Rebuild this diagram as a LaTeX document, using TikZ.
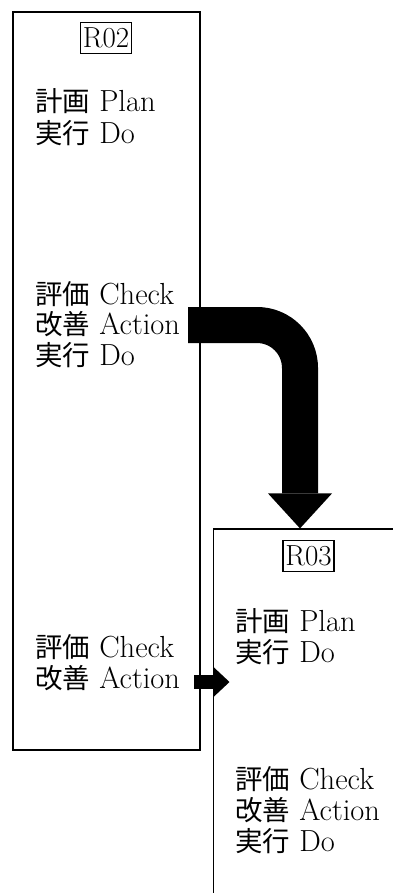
\documentclass[tikz,border=0pt]{standalone}
\usepackage{fontspec}
\newfontfamily\cjk[Scale=0.9]{Noto Sans CJK JP}
\usetikzlibrary{arrows.meta}
\begin{document}
\begin{tikzpicture}[x=1pt,y=-1pt,
  frame/.style={draw, line width=1.2pt, minimum width=187pt, minimum height=738pt, inner sep=0pt},
  tag/.style={draw, line width=1.5pt, inner xsep=2.5pt, inner ysep=0pt, minimum height=31pt, font=\fontsize{29}{31}\selectfont},
  txt/.style={anchor=base west, inner sep=0pt, font=\fontsize{30.5}{31}\selectfont},
  bigarrow/.style={line width=36pt, rounded corners=43pt, -{Triangle[width=64pt,length=35pt,line width=0pt]}},
  smallarrow/.style={line width=14pt, -{Triangle[width=30pt,length=16pt,line width=0pt]}}]
\useasboundingbox (0,0) rectangle (393,893);
\clip (0,0) rectangle (393,893);
\node[frame] (R02) at (106.5,381) {};
\node[frame] (R03) at (307,898) {};
\node[tag] (t02) at (106,38) {R02};
\node[tag] (t03) at (308.5,556) {R03};
% R02 texts
\node[txt] (a1) at (35,112) {{\cjk 計画} Plan};
\node[txt] (a2) at (35,144) {{\cjk 実行} Do};
\node[txt] (a3) at (35,304) {{\cjk 評価} Check};
\node[txt] (a4) at (35,334) {{\cjk 改善} Action};
\node[txt] (a5) at (35,365) {{\cjk 実行} Do};
\node[txt] (a6) at (35,657) {{\cjk 評価} Check};
\node[txt] (a7) at (35,688) {{\cjk 改善} Action};
% R03 texts
\node[txt] (b1) at (235,631) {{\cjk 計画} Plan};
\node[txt] (b2) at (235,662) {{\cjk 実行} Do};
\node[txt] (b3) at (235,789) {{\cjk 評価} Check};
\node[txt] (b4) at (235,820) {{\cjk 改善} Action};
\node[txt] (b5) at (235,851) {{\cjk 実行} Do};
% arrows
\coordinate (bigstart) at ([xshift=-12.6pt]R02.east |- 0,325);
\coordinate (bigend) at (R03.north -| 300,0);
\draw[bigarrow] (bigstart) -| (bigend);
\coordinate (smstart) at ([xshift=-6.6pt]R02.east |- 0,682);
\coordinate (smend) at ([xshift=16.6pt]R03.west |- 0,682);
\draw[smallarrow] (smstart) -- (smend);
\end{tikzpicture}
\end{document}
